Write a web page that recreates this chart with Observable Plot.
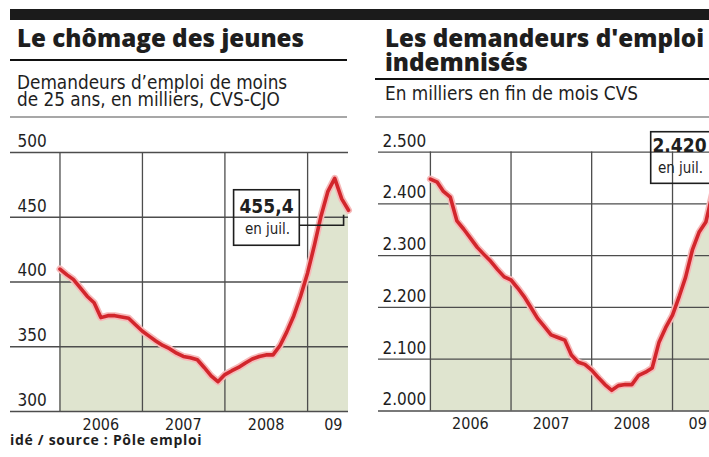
<!DOCTYPE html>
<html><head><meta charset="utf-8">
<script src="https://cdn.jsdelivr.net/npm/d3@7"></script>
<script src="https://cdn.jsdelivr.net/npm/@observablehq/plot@0.6"></script>
<style>
html,body{margin:0;padding:0;background:#fff;}
body{width:709px;height:457px;position:relative;overflow:hidden;font-family:"DejaVu Sans Condensed","Liberation Sans",Arial,sans-serif;color:#1a1a1a;}
.abs{position:absolute;}
.abs svg{max-width:none !important;}
</style></head>
<body>
<svg id="head" class="abs" style="left:0;top:0" width="709" height="457"></svg>
<div id="left" class="abs" style="left:0;top:120px;width:355px;height:320px"></div>
<div id="right" class="abs" style="left:360px;top:120px;width:360px;height:320px"></div>
<script>
// ---- data ----
const startMonth = "2006-01-01";
const endMonth = "2009-08-01"; // exclusive
const youthValues = [410, 405.5, 402, 395.5, 389, 384, 372.5, 374, 374, 373, 372, 367,
  362, 358, 354.5, 351, 348.5, 345, 342.5, 341.5, 340, 334, 327.5, 323,
  328.5, 331.5, 334, 337.5, 340.5, 342.5, 343.7, 343.7, 351, 361.5, 374, 389,
  407, 429, 450.6, 470, 480, 464.2, 455.4];
const indemValues = [2448, 2442, 2424, 2413, 2367, 2351, 2334, 2316, 2302, 2289, 2273, 2259,
  2253, 2237, 2221, 2200, 2179, 2163, 2147, 2142, 2137, 2108, 2094, 2090,
  2079, 2064, 2051, 2040, 2049, 2051, 2051, 2069, 2075, 2083, 2133, 2161,
  2185, 2222, 2258, 2311, 2345, 2365, 2420];
const youthTicks = [300, 350, 400, 450, 500];
const indemTicks = [2000, 2100, 2200, 2300, 2400, 2500];
const yearStarts = ["2006-01-01", "2007-01-01", "2008-01-01", "2009-01-01"];
const yearLabelDates = ["2006-07-01", "2007-07-01", "2008-07-01", "2009-04-25"];
const yearLabels = ["2006", "2007", "2008", "09"];
const noteText = "en juil.";

// ---- helpers ----
const fr = d3.formatLocale({decimal: ",", thousands: ".", grouping: [3], currency: ["", " €"]});
const months = d3.utcMonths(new Date(startMonth), new Date(endMonth));
const yStarts = yearStarts.map(d => new Date(d));
const lblDates = yearLabelDates.map(d => new Date(d));
const lblMap = new Map(lblDates.map((d, i) => [+d, yearLabels[i]]));
const INK = "#1e1e1e";
const GRID = "#4d4d4d";
const COND = "'DejaVu Sans Condensed', 'Liberation Sans', Arial, sans-serif";

function panel(o) {
  const data = months.map((date, i) => ({date, value: o.values[i]}));
  const last = data[data.length - 1];
  const svg = Plot.plot({
    width: o.width, height: o.height,
    marginLeft: o.ml, marginRight: o.mr, marginTop: o.mt, marginBottom: o.mb,
    x: {type: "utc", domain: o.xDomain, label: null},
    y: {domain: [o.ticks[0], o.ticks[o.ticks.length - 1]], label: null},
    style: {fontFamily: COND, background: "transparent", overflow: "visible", color: INK},
    marks: [
      Plot.areaY(data, {x: "date", y1: o.ticks[0], y2: "value", fill: "#dfe4cf"}),
      Plot.ruleY(o.ticks, {stroke: GRID, strokeWidth: 1.3}),
      Plot.ruleX(yStarts, {stroke: GRID, strokeWidth: 1.3}),
      Plot.lineY(data, {x: "date", y: "value", stroke: "#f6b9b9", strokeWidth: 7, strokeLinejoin: "round", strokeLinecap: "round"}),
      Plot.lineY(data, {x: "date", y: "value", stroke: "#d2262c", strokeWidth: 3.6, strokeLinejoin: "round", strokeLinecap: "round"}),
      Plot.axisY(o.ticks, {label: null, tickSize: 0, tickPadding: 0, textAnchor: "start", dx: o.labelDx, dy: -11, fontSize: 17, tickFormat: o.fmt, fill: INK}),
      Plot.axisX(lblDates, {label: null, tickSize: 0, tickPadding: 7, tickFormat: d => lblMap.get(+d), fontSize: 16, fill: INK}),
      Plot.text([last], {x: "date", y: "value", text: d => o.noteFmt(d.value), dx: o.note.tx, dy: o.note.ty1, fontSize: 19, fontWeight: "bold", fill: INK}),
      Plot.text([last], {x: "date", y: "value", text: () => noteText, dx: o.note.tx + 1, dy: o.note.ty2, fontSize: 15, fill: INK})
    ]
  });
  // annotation box + leader positioned from the last data point
  const px = svg.scale("x").apply(last.date), py = svg.scale("y").apply(last.value);
  const g = d3.select(svg).append("g");
  const b = o.note.box;
  g.append("rect").attr("x", px + b[0]).attr("y", py + b[1]).attr("width", b[2] - b[0]).attr("height", b[3] - b[1])
    .attr("fill", "none").attr("stroke", INK).attr("stroke-width", 1.6);
  if (o.note.leader) {
    const L = o.note.leader;
    g.append("path").attr("d", `M${px + b[2]},${py + L[0]}H${px + L[1]}V${py + L[2]}`)
      .attr("fill", "none").attr("stroke", INK).attr("stroke-width", 1.6);
  }
  return svg;
}

document.getElementById("left").append(panel({
  values: youthValues, ticks: youthTicks, width: 355, height: 320, ml: 10, mr: 7, mt: 32, mb: 29,
  xDomain: [new Date("2005-05-27"), new Date("2009-07-01")],
  fmt: d => fr.format("d")(d), labelDx: 7,
  noteFmt: v => fr.format(",.1f")(v),
  note: {tx: -82, ty1: -3, ty2: 19, box: [-114.4, -20, -48.7, 35.5], leader: [15.5, -4.4, 5]}
}));
document.getElementById("right").append(panel({
  values: indemValues, ticks: indemTicks, width: 360, height: 320, ml: 18, mr: 8, mt: 31.6, mb: 29.5,
  xDomain: [new Date("2005-05-11"), new Date("2009-07-01")],
  fmt: d => fr.format(",")(d), labelDx: 4,
  noteFmt: v => fr.format(",")(v),
  note: {tx: -33, ty1: -48, ty2: -25, box: [-61.3, -61.3, 4.5, -9.7]}
}));

// ---- header texts ----
const head = d3.select("#head");
head.append("rect").attr("x", 10).attr("y", 9).attr("width", 699).attr("height", 11).attr("fill", "#1b1b1b");
const T = (x, y, s, size, weight, fam, ls) => head.append("text").attr("x", x).attr("y", y).text(s)
  .attr("font-size", size).attr("font-weight", weight).attr("font-family", fam).attr("fill", INK)
  .attr("letter-spacing", ls || 0);
const titleFam = "'Open Sans', 'Noto Sans', sans-serif";
T(17, 46.5, "Le chômage des jeunes", 24.2, 800, titleFam);
T(385, 46.5, "Les demandeurs d'emploi", 24.2, 800, titleFam);
T(385, 70.5, "indemnisés", 24.2, 800, titleFam);
T(17, 88.5, "Demandeurs d’emploi de moins", 18.8, 400, COND);
T(17, 105.5, "de 25 ans, en milliers, CVS-CJO", 18.8, 400, COND);
T(385, 100, "En milliers en fin de mois CVS", 18.8, 400, COND);
T(10, 445, "idé / source : Pôle emploi", 14, 700, titleFam, 0.7);
const R = (x1, x2, y, c, w) => head.append("line").attr("x1", x1).attr("x2", x2).attr("y1", y).attr("y2", y).attr("stroke", c).attr("stroke-width", w);
R(10, 347, 60, "#111", 2); R(375, 709, 79, "#111", 2);
R(10, 347, 117, "#8a8a8a", 1.5); R(375, 709, 117, "#8a8a8a", 1.5);
</script>
</body></html>
